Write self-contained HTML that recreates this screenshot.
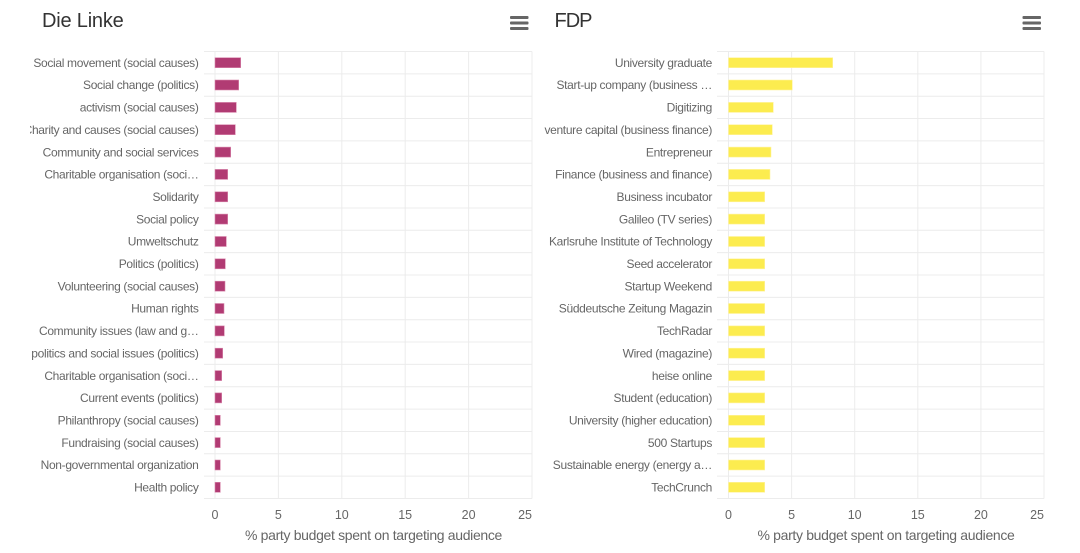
<!DOCTYPE html>
<html>
<head>
<meta charset="utf-8">
<style>
html,body{margin:0;padding:0;background:#fff;}
svg{display:block;}
.cat{font-family:"Liberation Sans",Arial,sans-serif;font-size:12px;letter-spacing:-0.33px;fill:#666;}
.tick{font-family:"Liberation Sans",Arial,sans-serif;font-size:12.5px;fill:#666;}
.atitle{font-family:"Liberation Sans",Arial,sans-serif;font-size:14px;letter-spacing:-0.33px;fill:#666;}
.title{font-family:"Liberation Sans",Arial,sans-serif;font-size:20px;fill:#333;}
</style>
</head>
<body>
<svg width="1080" height="553" viewBox="0 0 1080 553" xmlns="http://www.w3.org/2000/svg">
<defs>
<clipPath id="clipL"><rect x="30" y="40" width="180" height="470"/></clipPath>
<clipPath id="clipR"><rect x="544.5" y="40" width="180" height="470"/></clipPath>
</defs>
<rect width="1080" height="553" fill="#fff"/>

<!-- ============ LEFT CHART ============ -->
<text class="title" x="42" y="27" letter-spacing="-0.2">Die Linke</text>
<g fill="#666">
<rect x="510" y="16" width="18.5" height="3" rx="1"/>
<rect x="510" y="21.5" width="18.5" height="3" rx="1"/>
<rect x="510" y="27" width="18.5" height="3" rx="1"/>
</g>

<g stroke="#ececec" stroke-width="1" fill="none">
<path d="M204 51.5H532 M204 73.85H532 M204 96.2H532 M204 118.55H532 M204 140.9H532 M204 163.25H532 M204 185.6H532 M204 207.95H532 M204 230.3H532 M204 252.65H532 M204 275H532 M204 297.35H532 M204 319.7H532 M204 342.05H532 M204 364.4H532 M204 386.75H532 M204 409.1H532 M204 431.45H532 M204 453.8H532 M204 476.15H532 M204 498.5H532"/>
<path d="M215 51.5V498.5 M278.4 51.5V498.5 M341.8 51.5V498.5 M405.2 51.5V498.5 M468.6 51.5V498.5 M532 51.5V498.5"/>
</g>

<g fill="#b13b73" stroke="#d98aae" stroke-width="0.6">
<rect x="215" y="57.7" width="25.7" height="10"/>
<rect x="215" y="80.0" width="23.7" height="10"/>
<rect x="215" y="102.4" width="21.3" height="10"/>
<rect x="215" y="124.7" width="20.3" height="10"/>
<rect x="215" y="147.1" width="15.7" height="10"/>
<rect x="215" y="169.4" width="12.7" height="10"/>
<rect x="215" y="191.8" width="12.7" height="10"/>
<rect x="215" y="214.1" width="12.7" height="10"/>
<rect x="215" y="236.5" width="11.3" height="10"/>
<rect x="215" y="258.8" width="10.3" height="10"/>
<rect x="215" y="281.2" width="10" height="10"/>
<rect x="215" y="303.5" width="9" height="10"/>
<rect x="215" y="325.9" width="9.3" height="10"/>
<rect x="215" y="348.2" width="7.7" height="10"/>
<rect x="215" y="370.6" width="6.7" height="10"/>
<rect x="215" y="392.9" width="6.7" height="10"/>
<rect x="215" y="415.3" width="5.3" height="10"/>
<rect x="215" y="437.6" width="5.3" height="10"/>
<rect x="215" y="460.0" width="5.3" height="10"/>
<rect x="215" y="482.3" width="5.3" height="10"/>
</g>

<g class="cat" text-anchor="end" clip-path="url(#clipL)">
<text x="198.5" y="66.9">Social movement (social causes)</text>
<text x="198.5" y="89.2">Social change (politics)</text>
<text x="198.5" y="111.6">activism (social causes)</text>
<text x="198.5" y="133.9">Charity and causes (social causes)</text>
<text x="198.5" y="156.3">Community and social services</text>
<text x="198.5" y="178.6">Charitable organisation (soci…</text>
<text x="198.5" y="201.0">Solidarity</text>
<text x="198.5" y="223.3">Social policy</text>
<text x="198.5" y="245.7">Umweltschutz</text>
<text x="198.5" y="268.0">Politics (politics)</text>
<text x="198.5" y="290.4">Volunteering (social causes)</text>
<text x="198.5" y="312.7">Human rights</text>
<text x="198.5" y="335.1">Community issues (law and g…</text>
<text x="198.5" y="357.4">Law, politics and social issues (politics)</text>
<text x="198.5" y="379.8">Charitable organisation (soci…</text>
<text x="198.5" y="402.1">Current events (politics)</text>
<text x="198.5" y="424.5">Philanthropy (social causes)</text>
<text x="198.5" y="446.8">Fundraising (social causes)</text>
<text x="198.5" y="469.2">Non-governmental organization</text>
<text x="198.5" y="491.5">Health policy</text>
</g>

<g class="tick" text-anchor="middle">
<text x="215" y="519">0</text>
<text x="278.4" y="519">5</text>
<text x="341.8" y="519">10</text>
<text x="405.2" y="519">15</text>
<text x="468.6" y="519">20</text>
<text x="532" y="519" text-anchor="end">25</text>
</g>
<text class="atitle" x="373.5" y="540" text-anchor="middle">% party budget spent on targeting audience</text>

<!-- ============ RIGHT CHART ============ -->
<text class="title" x="554.5" y="27" letter-spacing="-1">FDP</text>
<g fill="#666">
<rect x="1022.5" y="16" width="18.5" height="3" rx="1"/>
<rect x="1022.5" y="21.5" width="18.5" height="3" rx="1"/>
<rect x="1022.5" y="27" width="18.5" height="3" rx="1"/>
</g>

<g stroke="#ececec" stroke-width="1" fill="none">
<path d="M717 51.5H1044 M717 73.85H1044 M717 96.2H1044 M717 118.55H1044 M717 140.9H1044 M717 163.25H1044 M717 185.6H1044 M717 207.95H1044 M717 230.3H1044 M717 252.65H1044 M717 275H1044 M717 297.35H1044 M717 319.7H1044 M717 342.05H1044 M717 364.4H1044 M717 386.75H1044 M717 409.1H1044 M717 431.45H1044 M717 453.8H1044 M717 476.15H1044 M717 498.5H1044"/>
<path d="M728.5 51.5V498.5 M791.6 51.5V498.5 M854.7 51.5V498.5 M917.8 51.5V498.5 M980.9 51.5V498.5 M1044 51.5V498.5"/>
</g>

<g fill="#fcec4f" stroke="#fff3a0" stroke-width="0.6">
<rect x="728.5" y="57.7" width="104.2" height="10"/>
<rect x="728.5" y="80.0" width="63.8" height="10"/>
<rect x="728.5" y="102.4" width="44.8" height="10"/>
<rect x="728.5" y="124.7" width="43.8" height="10"/>
<rect x="728.5" y="147.1" width="42.5" height="10"/>
<rect x="728.5" y="169.4" width="41.5" height="10"/>
<rect x="728.5" y="191.8" width="36.2" height="10"/>
<rect x="728.5" y="214.1" width="36.2" height="10"/>
<rect x="728.5" y="236.5" width="36.2" height="10"/>
<rect x="728.5" y="258.8" width="36.2" height="10"/>
<rect x="728.5" y="281.2" width="36.2" height="10"/>
<rect x="728.5" y="303.5" width="36.2" height="10"/>
<rect x="728.5" y="325.9" width="36.2" height="10"/>
<rect x="728.5" y="348.2" width="36.2" height="10"/>
<rect x="728.5" y="370.6" width="36.2" height="10"/>
<rect x="728.5" y="392.9" width="36.2" height="10"/>
<rect x="728.5" y="415.3" width="36.2" height="10"/>
<rect x="728.5" y="437.6" width="36.2" height="10"/>
<rect x="728.5" y="460.0" width="36.2" height="10"/>
<rect x="728.5" y="482.3" width="36.2" height="10"/>
</g>

<g class="cat" text-anchor="end" clip-path="url(#clipR)">
<text x="712" y="66.9">University graduate</text>
<text x="712" y="89.2">Start-up company (business …</text>
<text x="712" y="111.6">Digitizing</text>
<text x="712" y="133.9">venture capital (business finance)</text>
<text x="712" y="156.3">Entrepreneur</text>
<text x="712" y="178.6">Finance (business and finance)</text>
<text x="712" y="201.0">Business incubator</text>
<text x="712" y="223.3">Galileo (TV series)</text>
<text x="712" y="245.7">Karlsruhe Institute of Technology</text>
<text x="712" y="268.0">Seed accelerator</text>
<text x="712" y="290.4">Startup Weekend</text>
<text x="712" y="312.7">Süddeutsche Zeitung Magazin</text>
<text x="712" y="335.1">TechRadar</text>
<text x="712" y="357.4">Wired (magazine)</text>
<text x="712" y="379.8">heise online</text>
<text x="712" y="402.1">Student (education)</text>
<text x="712" y="424.5">University (higher education)</text>
<text x="712" y="446.8">500 Startups</text>
<text x="712" y="469.2">Sustainable energy (energy a…</text>
<text x="712" y="491.5">TechCrunch</text>
</g>

<g class="tick" text-anchor="middle">
<text x="728.5" y="519">0</text>
<text x="791.6" y="519">5</text>
<text x="854.7" y="519">10</text>
<text x="917.8" y="519">15</text>
<text x="980.9" y="519">20</text>
<text x="1044" y="519" text-anchor="end">25</text>
</g>
<text class="atitle" x="886" y="540" text-anchor="middle">% party budget spent on targeting audience</text>
</svg>
</body>
</html>
